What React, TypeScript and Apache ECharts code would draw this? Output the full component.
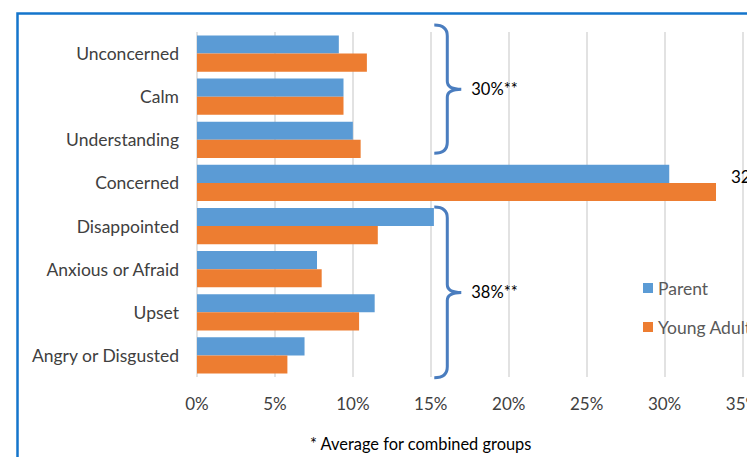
import React, { useEffect, useRef } from "react";
import * as echarts from "echarts";

const categories = [
  "Unconcerned",
  "Calm",
  "Understanding",
  "Concerned",
  "Disappointed",
  "Anxious or Afraid",
  "Upset",
  "Angry or Disgusted",
];
const parentValues = [9.1, 9.4, 10.0, 30.3, 15.2, 7.7, 11.4, 6.9];
const youngAdultValues = [10.9, 9.4, 10.5, 33.3, 11.6, 8.0, 10.4, 5.8];
const xTicks = { min: 0, max: 35, interval: 5 };

// brace annotations: [x value, from (category units), to (category units)]
const braceSpans = [
  [15, -0.66, 2.31],
  [15, 3.56, 7.52],
];
const braceLabels = ["30%**", "38%**"];
// free note: [x value, category position]
const notePositions = [[34.26, 2.86]];
const noteLabels = ["32%*"];
const footnote = "* Average for combined groups";

const FONT = "Lato, 'Open Sans', sans-serif";

export default function App() {
  const ref = useRef<HTMLDivElement>(null);
  useEffect(() => {
    if (!ref.current) return;
    document.documentElement.style.overflow = "hidden";
    document.body.style.margin = "0";
    document.body.style.overflow = "hidden";
    const chart = echarts.init(ref.current, null, { renderer: "svg", width: 747, height: 457 });
    const braceColor = "#4a7dbf";
    chart.setOption({
      animation: false,
      backgroundColor: "#ffffff",
      textStyle: { fontFamily: FONT },
      grid: {
        left: 197,
        right: 4.5,
        top: 32,
        bottom: 80,
        containLabel: false,
        outerBoundsMode: "none",
      },
      legend: {
        data: ["Parent", "Young Adult"],
        orient: "vertical",
        left: 638,
        top: 274,
        itemWidth: 10,
        itemHeight: 10,
        itemGap: 21,
        icon: "rect",
        textStyle: { color: "#595959", fontSize: 17.5, fontFamily: FONT, padding: [0, 0, 0, 0] },
      },
      xAxis: {
        type: "value",
        min: xTicks.min,
        max: xTicks.max,
        interval: xTicks.interval,
        axisLine: { show: false },
        axisTick: { show: false },
        splitLine: { show: true, lineStyle: { color: "#d9d9d9", width: 1.5 } },
        axisLabel: {
          formatter: "{value}%",
          color: "#404040",
          fontSize: 17,
          fontFamily: FONT,
          margin: 18,
          hideOverlap: false,
        },
      },
      yAxis: {
        type: "category",
        data: categories,
        inverse: true,
        axisLine: { show: false },
        axisTick: { show: false },
        axisLabel: { color: "#404040", fontSize: 17.5, fontFamily: FONT, margin: 18 },
      },
      series: [
        {
          name: "Parent",
          type: "bar",
          data: parentValues,
          itemStyle: { color: "#5b9bd5" },
          barGap: "0%",
          barCategoryGap: "16%",
        },
        {
          name: "Young Adult",
          type: "bar",
          data: youngAdultValues,
          itemStyle: { color: "#ed7d31" },
          barGap: "0%",
          barCategoryGap: "16%",
        },
        {
          type: "custom",
          name: "braces",
          data: braceSpans,
          silent: true,
          z: 5,
          renderItem: (params: any, api: any) => {
            const xv = api.value(0);
            const c0 = api.coord([xv, 0]);
            const band = api.size([0, 1])[1];
            const yOf = (v: number) => c0[1] + v * band;
            const T = yOf(api.value(1));
            const B = yOf(api.value(2));
            const M = (T + B) / 2;
            const x0 = c0[0] + 3.5;
            const xv2 = c0[0] + 16.5;
            const xt = c0[0] + 30.5;
            const r = 11;
            const r2 = 8;
            const d = `M${x0},${T} Q${xv2},${T} ${xv2},${T + r} L${xv2},${M - r2} Q${xv2},${M} ${xt},${M} Q${xv2},${M} ${xv2},${M + r2} L${xv2},${B - r} Q${xv2},${B} ${x0},${B}`;
            return {
              type: "group",
              children: [
                {
                  type: "path",
                  shape: { pathData: d },
                  style: { fill: "none", stroke: braceColor, lineWidth: 3 },
                },
                {
                  type: "text",
                  x: xt + 10,
                  y: M,
                  style: {
                    text: braceLabels[params.dataIndex],
                    fill: "#000000",
                    fontSize: 16.5,
                    fontFamily: FONT,
                    verticalAlign: "middle",
                    align: "left",
                  },
                },
              ],
            };
          },
        },
        {
          type: "custom",
          name: "notes",
          data: notePositions,
          silent: true,
          z: 5,
          renderItem: (params: any, api: any) => {
            const c0 = api.coord([api.value(0), 0]);
            const band = api.size([0, 1])[1];
            const y = c0[1] + api.value(1) * band;
            return {
              type: "text",
              x: c0[0],
              y,
              style: {
                text: noteLabels[params.dataIndex],
                fill: "#000000",
                fontSize: 17,
                fontFamily: FONT,
                verticalAlign: "middle",
                align: "left",
              },
            };
          },
        },
      ],
      graphic: [
        {
          type: "rect",
          left: 15,
          top: 11,
          shape: { x: 0, y: 0, width: 900, height: 600 },
          style: { fill: "none", stroke: "#1475cc", lineWidth: 2.5 },
          silent: true,
        },
        {
          type: "text",
          left: 310,
          top: 435,
          style: { text: footnote, fill: "#000000", fontSize: 16.4, fontFamily: FONT },
        },
      ],
    });
    return () => chart.dispose();
  }, []);
  return (
    <div
      ref={ref}
      style={{ position: "fixed", left: 0, top: 0, width: 747, height: 457, overflow: "hidden" }}
    />
  );
}
